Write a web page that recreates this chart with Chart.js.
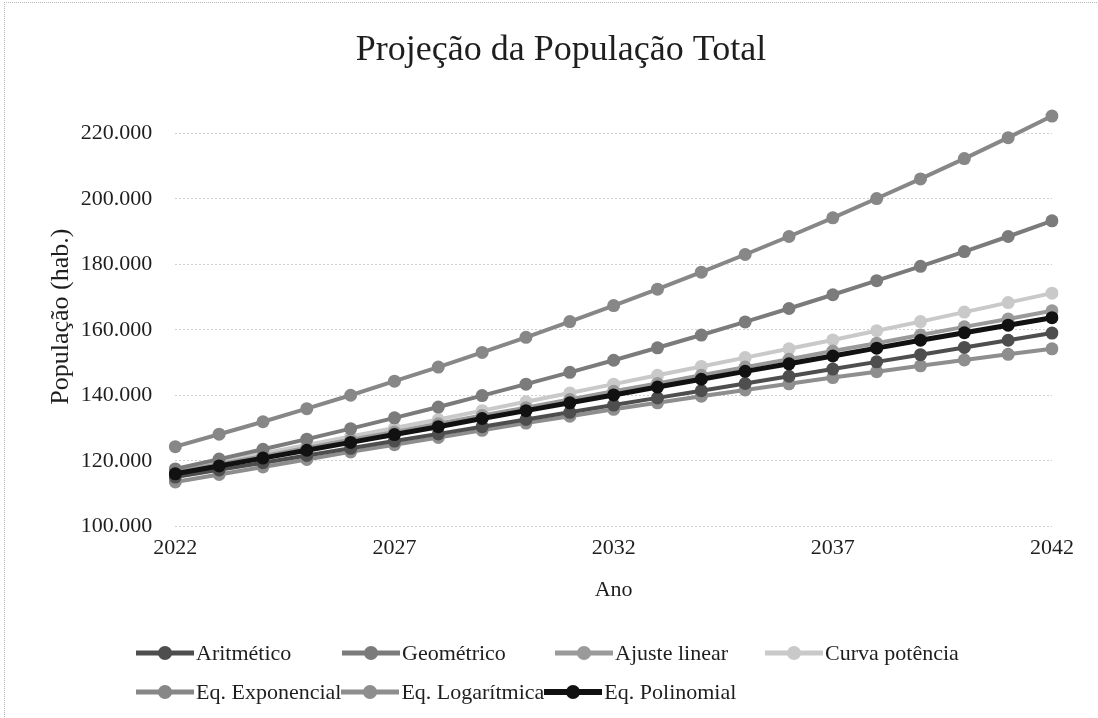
<!DOCTYPE html>
<html lang="pt">
<head>
<meta charset="utf-8">
<title>Projeção da População Total</title>
<script src="https://cdn.jsdelivr.net/npm/chart.js@4.4.1/dist/chart.umd.min.js"></script>
<style>
  html, body { margin: 0; padding: 0; background: #fff; }
  .wrap { position: relative; width: 1098px; height: 718px; overflow: hidden; }
  .frame { position: absolute; left: 4px; top: 2px; width: 1200px; height: 800px;
           border-top: 1px dotted #b5b5b5; border-left: 1px dotted #b5b5b5; }
  #popChart { position: absolute; left: 0; top: 0; }
  .legend { position: absolute; left: 0; top: 0; font-family: "Liberation Serif", "Times New Roman", serif;
            font-size: 22px; color: #1e1e1e; }
  .row { position: absolute; display: flex; align-items: center; white-space: nowrap; transform: translateY(-50%); }
  .item { display: flex; align-items: center; white-space: nowrap; }
  .row1 .item { position: absolute; top: 50%; transform: translateY(-50%); }
  .mk { position: relative; width: 58px; height: 16px; margin-right: 2px; flex: none; }
  .mk .ln { position: absolute; left: 0; right: 0; top: 50%; transform: translateY(-50%); }
  .mk .dt { position: absolute; left: 50%; top: 50%; width: 14px; height: 14px; border-radius: 50%;
            transform: translate(-50%, -50%); }
</style>
</head>
<body>
<div class="wrap">
  <div class="frame"></div>
  <canvas id="popChart" width="1098" height="718"></canvas>
  <div class="legend" id="legend"></div>
</div>
<script>
const anos = [2022, 2023, 2024, 2025, 2026, 2027, 2028, 2029, 2030, 2031, 2032,
              2033, 2034, 2035, 2036, 2037, 2038, 2039, 2040, 2041, 2042];

const aritmetico  = [115000, 117200, 119400, 121600, 123800, 126000, 128200, 130400, 132600, 134800, 137000,
                     139200, 141400, 143600, 145800, 148000, 150200, 152400, 154600, 156800, 159000];
const geometrico  = [117500, 120500, 123500, 126600, 129800, 133100, 136400, 139900, 143400, 147000, 150700,
                     154500, 158400, 162400, 166500, 170700, 175000, 179400, 183900, 188500, 193300];
const ajusteLinear = [116500, 119000, 121400, 123900, 126400, 128800, 131300, 133800, 136200, 138700, 141200,
                      143600, 146100, 148600, 151000, 153500, 155900, 158400, 160900, 163300, 165800];
const curvaPotencia = [117000, 119600, 122200, 124800, 127400, 130000, 132600, 135300, 138000, 140700, 143400,
                       146100, 148800, 151500, 154200, 156900, 159700, 162500, 165400, 168300, 171200];
const eqExponencial = [124300, 128100, 131900, 135900, 140000, 144300, 148600, 153100, 157700, 162500, 167400,
                       172400, 177600, 183000, 188500, 194200, 200100, 206100, 212300, 218700, 225300];
const eqLogaritmica = [113500, 115800, 118100, 120400, 122700, 124900, 127100, 129300, 131500, 133600, 135700,
                       137700, 139700, 141600, 143500, 145400, 147200, 149000, 150800, 152500, 154200];
const eqPolinomial  = [116000, 118400, 120800, 123200, 125600, 128000, 130400, 132900, 135300, 137700, 140100,
                       142500, 144900, 147300, 149600, 152000, 154400, 156800, 159100, 161400, 163700];

const yTicks = [100000, 120000, 140000, 160000, 180000, 200000, 220000];
const xTicks = [2022, 2027, 2032, 2037, 2042];

const serif = '"Liberation Serif", "Times New Roman", serif';
const textColor = '#1e1e1e';

const series = [
  { label: 'Aritmético',      data: aritmetico,    color: '#4e4e4e', width: 4 },
  { label: 'Geométrico',      data: geometrico,    color: '#7b7b7b', width: 4 },
  { label: 'Ajuste linear',   data: ajusteLinear,  color: '#9a9a9a', width: 4 },
  { label: 'Curva potência',  data: curvaPotencia, color: '#c9c9c9', width: 4 },
  { label: 'Eq. Exponencial', data: eqExponencial, color: '#878787', width: 4 },
  { label: 'Eq. Logarítmica', data: eqLogaritmica, color: '#8e8e8e', width: 4 },
  { label: 'Eq. Polinomial',  data: eqPolinomial,  color: '#111111', width: 5 }
];

// legend rows: first row uses fixed columns, second row is packed
const legendRows = [
  { top: 653, left: 136, items: [0, 1, 2, 3], cols: [0, 206, 419, 629] },
  { top: 692, left: 136, items: [4, 5, 6] }
];

function fmtMil(v) {
  return String(v).replace(/\B(?=(\d{3})+(?!\d))/g, '.');
}

const ctx = document.getElementById('popChart').getContext('2d');

const popChart = new Chart(ctx, {
  type: 'line',
  data: {
    labels: anos,
    datasets: series.map((s, i) => ({
      label: s.label,
      data: s.data,
      borderColor: s.color,
      backgroundColor: s.color,
      pointBackgroundColor: s.color,
      pointBorderColor: s.color,
      borderWidth: s.width,
      pointRadius: 6.5,
      pointBorderWidth: 0,
      tension: 0,
      fill: false,
      order: i === series.length - 1 ? 0 : 1
    }))
  },
  options: {
    responsive: false,
    animation: false,
    devicePixelRatio: 1,
    layout: {
      padding: { top: 10, left: 70, right: 46, bottom: 115 }
    },
    plugins: {
      legend: { display: false },
      tooltip: { enabled: false },
      title: {
        display: true,
        text: 'Projeção da População Total',
        color: textColor,
        font: { family: serif, size: 36, weight: 'normal' },
        padding: { top: 19, bottom: 35 }
      }
    },
    scales: {
      x: {
        type: 'category',
        offset: false,
        border: { display: false },
        grid: { display: false, drawTicks: false },
        ticks: {
          autoSkip: false,
          maxRotation: 0,
          padding: 9,
          color: textColor,
          font: { family: serif, size: 22 },
          callback: function (val, idx) {
            const yr = anos[idx];
            return xTicks.includes(yr) ? String(yr) : '';
          }
        },
        title: {
          display: true,
          text: 'Ano',
          color: textColor,
          font: { family: serif, size: 22 },
          padding: { top: 6, bottom: 0 }
        }
      },
      y: {
        min: 100000,
        max: 228000,
        border: { display: false, dash: [2, 2] },
        afterBuildTicks: (axis) => {
          axis.ticks = yTicks.map(v => ({ value: v }));
        },
        grid: {
          color: '#cfcfcf',
          lineWidth: 1,
          drawTicks: false
        },
        ticks: {
          padding: 23,
          color: textColor,
          font: { family: serif, size: 22 },
          callback: (v) => fmtMil(v)
        },
        title: {
          display: true,
          text: 'População (hab.)',
          color: textColor,
          font: { family: serif, size: 26 },
          padding: { top: -24.6, bottom: -18.8 }
        }
      }
    }
  }
});

// legend with line + marker swatches
function makeItem(s) {
  const item = document.createElement('div');
  item.className = 'item';
  const mk = document.createElement('span');
  mk.className = 'mk';
  const ln = document.createElement('span');
  ln.className = 'ln';
  ln.style.height = (s.width + 1) + 'px';
  ln.style.background = s.color;
  const dt = document.createElement('span');
  dt.className = 'dt';
  dt.style.background = s.color;
  mk.appendChild(ln);
  mk.appendChild(dt);
  const tx = document.createElement('span');
  tx.textContent = s.label;
  item.appendChild(mk);
  item.appendChild(tx);
  return item;
}

const legendEl = document.getElementById('legend');
legendRows.forEach((r) => {
  const row = document.createElement('div');
  row.className = 'row' + (r.cols ? ' row1' : '');
  row.style.left = r.left + 'px';
  row.style.top = r.top + 'px';
  if (r.cols) { row.style.height = '30px'; row.style.width = '900px'; }
  r.items.forEach((idx, k) => {
    const it = makeItem(series[idx]);
    if (r.cols) it.style.left = r.cols[k] + 'px';
    row.appendChild(it);
  });
  legendEl.appendChild(row);
});
</script>
</body>
</html>
